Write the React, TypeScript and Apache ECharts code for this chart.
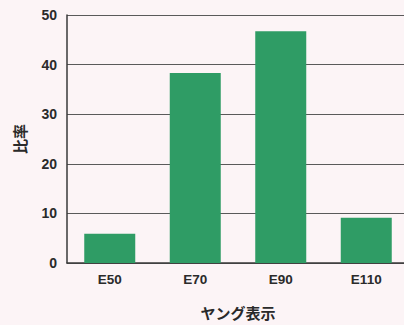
import React, { useEffect, useRef } from "react";
import * as echarts from "echarts";

// Young's modulus designation categories and their share (%)
const categories: string[] = ["E50", "E70", "E90", "E110"];
const shares: number[] = [5.9, 38.3, 46.7, 9.1];

const yAxisTitle = "比率";
const xAxisTitle = "ヤング表示";

export default function App() {
  const ref = useRef<HTMLDivElement>(null);

  useEffect(() => {
    if (!ref.current) return;
    const chart = echarts.init(ref.current, undefined, { renderer: "svg" });
    chart.setOption({
      animation: false,
      backgroundColor: "#fcf4f6",
      // the canvas is wider than the frame, so the plot area runs past its right edge
      grid: { left: 67, right: 11, top: 15, bottom: 61, containLabel: false },
      xAxis: {
        type: "category",
        data: categories,
        axisTick: { show: false },
        axisLine: { lineStyle: { color: "#3a3a3a", width: 1.5 } },
        axisLabel: {
          color: "#2a2a2a",
          fontFamily: "Liberation Sans, Arial, sans-serif",
          fontWeight: "bold",
          fontSize: 13.5,
          margin: 10,
        },
        name: xAxisTitle,
        nameLocation: "middle",
        nameGap: 42,
        nameTextStyle: {
          color: "#2a2a2a",
          fontFamily: "Noto Sans CJK JP",
          fontWeight: "bold",
          fontSize: 15,
        },
      },
      yAxis: {
        type: "value",
        min: 0,
        max: 50,
        interval: 10,
        axisLine: { show: true, lineStyle: { color: "#3a3a3a", width: 1.5 } },
        axisTick: { show: false },
        splitLine: { lineStyle: { color: "#5a5a5a", width: 1 } },
        axisLabel: {
          color: "#2a2a2a",
          fontFamily: "Liberation Sans, Arial, sans-serif",
          fontWeight: "bold",
          fontSize: 14,
          margin: 10,
        },
        name: yAxisTitle,
        nameLocation: "middle",
        nameGap: 40,
        nameTextStyle: {
          color: "#2a2a2a",
          fontFamily: "Noto Sans CJK JP",
          fontWeight: "bold",
          fontSize: 15,
        },
      },
      series: [
        {
          type: "bar",
          data: shares,
          barWidth: 51,
          itemStyle: { color: "#2f9c65" },
        },
      ],
    });
    return () => chart.dispose();
  }, []);

  return (
    <div
      style={{
        position: "fixed",
        left: 0,
        top: 0,
        width: 404,
        height: 325,
        overflow: "hidden",
      }}
    >
      <div ref={ref} style={{ width: 420, height: 325 }} />
    </div>
  );
}
